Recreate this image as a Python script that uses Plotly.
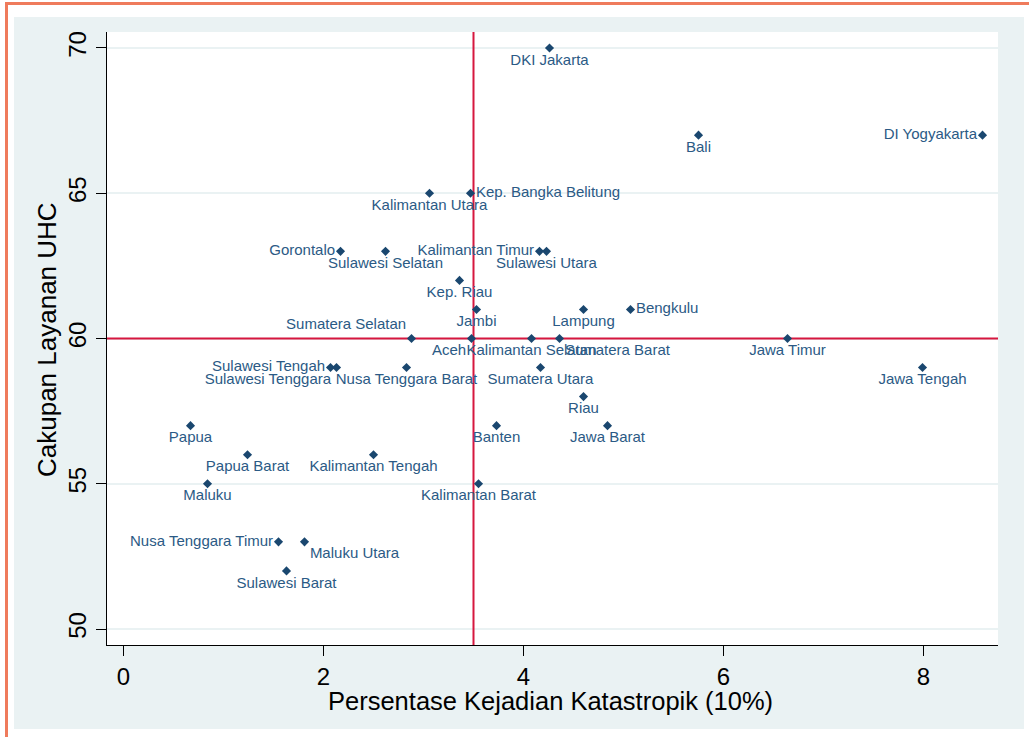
import plotly.graph_objects as go

# ---------------- data ----------------
provinces = [
    "DKI Jakarta", "Bali", "DI Yogyakarta", "Kalimantan Utara", "Kep. Bangka Belitung",
    "Gorontalo", "Sulawesi Selatan", "Kalimantan Timur", "Sulawesi Utara", "Kep. Riau",
    "Jambi", "Lampung", "Bengkulu", "Sumatera Selatan", "Aceh",
    "Kalimantan Selatan", "Sumatera Barat", "Jawa Timur", "Sulawesi Tengah", "Sulawesi Tenggara",
    "Nusa Tenggara Barat", "Sumatera Utara", "Jawa Tengah", "Riau", "Papua",
    "Banten", "Jawa Barat", "Papua Barat", "Kalimantan Tengah", "Maluku",
    "Kalimantan Barat", "Nusa Tenggara Timur", "Maluku Utara", "Sulawesi Barat",
]
katastropik = [
    4.26, 5.75, 8.59, 3.06, 3.47,
    2.17, 2.62, 4.16, 4.23, 3.36,
    3.53, 4.60, 5.07, 2.88, 3.48,
    4.08, 4.36, 6.64, 2.07, 2.13,
    2.83, 4.17, 7.99, 4.60, 0.67,
    3.73, 4.84, 1.24, 2.50, 0.84,
    3.55, 1.55, 1.81, 1.63,
]
uhc = [
    70, 67, 67, 65, 65,
    63, 63, 63, 63, 62,
    61, 61, 61, 60, 60,
    60, 60, 60, 59, 59,
    59, 59, 59, 58, 57,
    57, 57, 56, 56, 55,
    55, 53, 53, 52,
]
mean_katastropik = 3.50
mean_uhc = 60

x_ticks = [0, 2, 4, 6, 8]
y_ticks = [50, 55, 60, 65, 70]
x_range = [-0.165, 8.745]
y_range = [49.45, 70.55]
x_title = "Persentase Kejadian Katastropik (10%)"
y_title = "Cakupan Layanan UHC"

# ---------------- label placement (style) ----------------
special_pos = {
    "DI Yogyakarta": "middle left",
    "Kep. Bangka Belitung": "middle right",
    "Gorontalo": "middle left",
    "Kalimantan Timur": "middle left",
    "Bengkulu": "middle right",
    "Sumatera Selatan": "top left",
    "Aceh": "bottom left",
    "Sumatera Barat": "bottom right",
    "Sulawesi Tengah": "middle left",
    "Sulawesi Tenggara": "bottom left",
    "Nusa Tenggara Timur": "middle left",
    "Maluku Utara": "bottom right",
}
text_pos = [special_pos.get(p, "bottom center") for p in provinces]

NAVY = "#1a476f"
TEXT = "#2b5a85"
BG = "#eaf2f3"
RED = "#d6173f"
ORANGE = "#ef7b5c"
FONT = "Liberation Sans, Arial, sans-serif"

W, H = 1029, 737
L, R, T, B = 107, 998, 32, 645


def px(xp):
    return (xp - L) / (R - L)


def py(yp):
    return (B - yp) / (B - T)


fig = go.Figure()
fig.add_trace(go.Scatter(
    x=katastropik, y=uhc, text=provinces,
    mode="markers+text",
    textposition=text_pos,
    marker=dict(symbol="diamond", size=7, color=NAVY),
    textfont=dict(family=FONT, size=15, color=TEXT),
    cliponaxis=False,
    hoverinfo="text",
))

shapes = [
    # reference lines
    dict(type="line", xref="x", yref="y", x0=mean_katastropik, x1=mean_katastropik,
         y0=y_range[0], y1=y_range[1], line=dict(color=RED, width=2), layer="between"),
    dict(type="line", xref="x", yref="y", x0=x_range[0], x1=x_range[1], y0=mean_uhc, y1=mean_uhc,
         line=dict(color=RED, width=2), layer="between"),
    # outer white margins
    dict(type="rect", xref="paper", yref="paper", x0=px(0), x1=px(14), y0=py(H), y1=py(0),
         fillcolor="white", line=dict(width=0), layer="below"),
    dict(type="rect", xref="paper", yref="paper", x0=px(0), x1=px(W), y0=py(17), y1=py(0),
         fillcolor="white", line=dict(width=0), layer="below"),
    dict(type="rect", xref="paper", yref="paper", x0=px(1024), x1=px(W), y0=py(H), y1=py(0),
         fillcolor="white", line=dict(width=0), layer="below"),
    dict(type="rect", xref="paper", yref="paper", x0=px(0), x1=px(W), y0=py(H), y1=py(729),
         fillcolor="white", line=dict(width=0), layer="below"),
    # orange frame
    dict(type="rect", xref="paper", yref="paper", x0=px(5), x1=px(8), y0=py(H), y1=py(2),
         fillcolor=ORANGE, line=dict(width=0), layer="above"),
    dict(type="rect", xref="paper", yref="paper", x0=px(5), x1=px(W), y0=py(5), y1=py(2),
         fillcolor=ORANGE, line=dict(width=0), layer="above"),
]

annotations = [
    dict(text=x_title, xref="paper", yref="paper", x=px(550), y=py(701),
         xanchor="center", yanchor="middle", showarrow=False,
         font=dict(family=FONT, size=25.5, color="black")),
    dict(text=y_title, xref="paper", yref="paper", x=px(47), y=py(340),
         xanchor="center", yanchor="middle", showarrow=False, textangle=-90,
         font=dict(family=FONT, size=26, color="black")),
]

fig.update_layout(
    width=W, height=H,
    margin=dict(l=L, r=W - R, t=T, b=H - B, pad=0),
    paper_bgcolor=BG,
    plot_bgcolor="white",
    showlegend=False,
    shapes=shapes,
    annotations=annotations,
    font=dict(family=FONT, color="black"),
    xaxis=dict(
        range=x_range, tickvals=x_ticks, ticktext=[str(v) for v in x_ticks],
        showgrid=False, zeroline=False,
        showline=True, linecolor="black", linewidth=1,
        ticks="outside", ticklen=10, tickcolor="black", tickwidth=1,
        tickfont=dict(size=24, color="black"), ticklabelstandoff=0,
    ),
    yaxis=dict(
        range=y_range, tickvals=y_ticks, ticktext=[str(v) for v in y_ticks],
        showgrid=True, gridcolor=BG, gridwidth=2, zeroline=False,
        showline=True, linecolor="black", linewidth=1,
        ticks="outside", ticklen=10, tickcolor="black", tickwidth=1,
        tickangle=-90,
        tickfont=dict(size=24, color="black"), ticklabelstandoff=0,
    ),
)

fig.write_html("out.html", config={"displayModeBar": False},
               post_script="document.body.style.margin='0';document.body.style.overflow='hidden';")
